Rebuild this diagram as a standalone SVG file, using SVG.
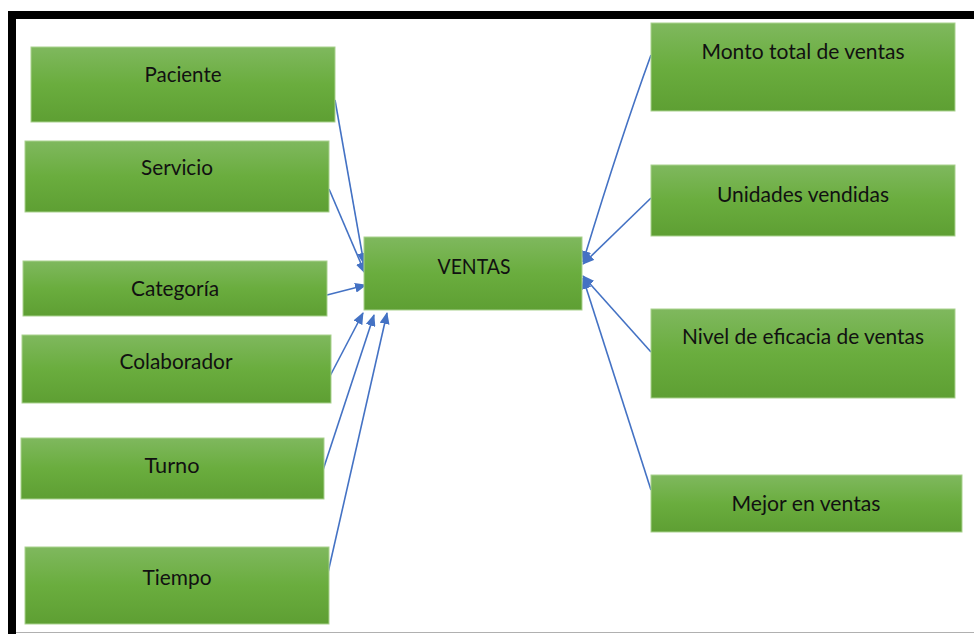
<svg xmlns="http://www.w3.org/2000/svg" width="974" height="634" viewBox="0 0 974 634">
  <defs>
    <linearGradient id="boxFill" x1="0" y1="0" x2="0" y2="1">
      <stop offset="0" stop-color="#7fb85e"/>
      <stop offset="0.5" stop-color="#6aad3e"/>
      <stop offset="1" stop-color="#5e9f33"/>
    </linearGradient>
    <marker id="arrow" viewBox="0 0 12 10" refX="11" refY="5" markerWidth="12" markerHeight="10" markerUnits="userSpaceOnUse" orient="auto">
      <path d="M0,0 L12,5 L0,10 Z" fill="#4472c4"/>
    </marker>
  </defs>
  <style>
    .box { fill: url(#boxFill); stroke: #a9d18e; stroke-width: 1; }
    .label { font-family: Lato, "Open Sans", "Liberation Sans", sans-serif; font-size: 21px; fill: #111111; text-anchor: middle; }
    .link { stroke: #4472c4; stroke-width: 1.6; fill: none; marker-end: url(#arrow); }
  </style>

  <!-- page background and frame -->
  <rect x="0" y="0" width="974" height="634" fill="#ffffff"/>
  <rect x="8" y="11" width="966" height="8" fill="#000000"/>
  <rect x="8" y="11" width="8" height="623" fill="#000000"/>
  <line x1="16" y1="632.5" x2="974" y2="632.5" stroke="#b0b0b0" stroke-width="1"/>

  <!-- connectors -->
  <g id="connectors">
    <line class="link" x1="335" y1="100" x2="364" y2="264"/>
    <line class="link" x1="329" y1="189" x2="365" y2="273"/>
    <line class="link" x1="327" y1="295" x2="366" y2="285"/>
    <line class="link" x1="330" y1="376" x2="363" y2="313"/>
    <line class="link" x1="323" y1="470" x2="374" y2="315"/>
    <line class="link" x1="327" y1="577" x2="387" y2="313"/>
    <path class="link" d="M651,55 Q620,140 583,262"/>
    <line class="link" x1="651" y1="198" x2="583" y2="264"/>
    <line class="link" x1="651" y1="352" x2="583" y2="276"/>
    <line class="link" x1="651" y1="490" x2="583" y2="278"/>
  </g>

  <!-- left dimension nodes -->
  <g id="node-paciente">
    <rect class="box" x="31" y="47" width="304" height="75"/>
    <text class="label" x="183" y="82" textLength="77" lengthAdjust="spacingAndGlyphs">Paciente</text>
  </g>
  <g id="node-servicio">
    <rect class="box" x="25" y="141" width="304" height="71"/>
    <text class="label" x="177" y="175" textLength="72" lengthAdjust="spacingAndGlyphs">Servicio</text>
  </g>
  <g id="node-categoria">
    <rect class="box" x="23" y="261" width="304" height="55"/>
    <text class="label" x="175" y="296" textLength="88" lengthAdjust="spacingAndGlyphs">Categoría</text>
  </g>
  <g id="node-colaborador">
    <rect class="box" x="22" y="335" width="309" height="68"/>
    <text class="label" x="176" y="369" textLength="113" lengthAdjust="spacingAndGlyphs">Colaborador</text>
  </g>
  <g id="node-turno">
    <rect class="box" x="21" y="438" width="303" height="61"/>
    <text class="label" x="172" y="473" textLength="55" lengthAdjust="spacingAndGlyphs">Turno</text>
  </g>
  <g id="node-tiempo">
    <rect class="box" x="25" y="547" width="304" height="77"/>
    <text class="label" x="177" y="585" textLength="69" lengthAdjust="spacingAndGlyphs">Tiempo</text>
  </g>

  <!-- central fact node -->
  <g id="node-ventas">
    <rect class="box" x="364" y="237" width="218" height="73"/>
    <text class="label" x="474" y="274" textLength="73" lengthAdjust="spacingAndGlyphs">VENTAS</text>
  </g>

  <!-- right measure nodes -->
  <g id="node-monto">
    <rect class="box" x="651" y="23" width="304" height="88"/>
    <text class="label" x="803" y="59" textLength="203" lengthAdjust="spacingAndGlyphs">Monto total de ventas</text>
  </g>
  <g id="node-unidades">
    <rect class="box" x="651" y="165" width="304" height="71"/>
    <text class="label" x="803" y="202" textLength="172" lengthAdjust="spacingAndGlyphs">Unidades vendidas</text>
  </g>
  <g id="node-nivel">
    <rect class="box" x="651" y="309" width="304" height="89"/>
    <text class="label" x="803" y="344" textLength="242" lengthAdjust="spacingAndGlyphs">Nivel de eficacia de ventas</text>
  </g>
  <g id="node-mejor">
    <rect class="box" x="651" y="475" width="311" height="57"/>
    <text class="label" x="806" y="511" textLength="149" lengthAdjust="spacingAndGlyphs">Mejor en ventas</text>
  </g>
</svg>
